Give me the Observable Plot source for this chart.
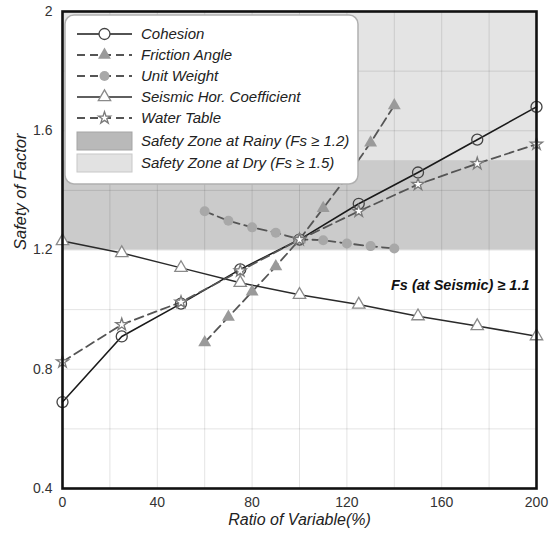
<!DOCTYPE html>
<html>
<head>
<meta charset="utf-8">
<script src="https://cdn.jsdelivr.net/npm/d3@7"></script>
<script src="https://cdn.jsdelivr.net/npm/@observablehq/plot@0.6"></script>
<style>
  html, body { margin: 0; padding: 0; background: #fff; }
  #chart svg { display: block; }
</style>
</head>
<body>
<div id="chart"></div>
<script>
// ---- data ----
const xMain = [0, 25, 50, 75, 100, 125, 150, 175, 200];
const cohesion = [0.69, 0.91, 1.02, 1.135, 1.235, 1.355, 1.46, 1.57, 1.68];
const waterTable = [0.825, 0.95, 1.025, 1.13, 1.235, 1.33, 1.42, 1.49, 1.555];
const seismic = [1.23, 1.19, 1.14, 1.09, 1.05, 1.017, 0.978, 0.945, 0.911];
const xMid = [60, 70, 80, 90, 100, 110, 120, 130, 140];
const friction = [0.89, 0.975, 1.06, 1.145, 1.235, 1.34, 1.445, 1.56, 1.685];
const unitWeight = [1.33, 1.298, 1.276, 1.258, 1.236, 1.233, 1.222, 1.213, 1.205];

const bandNames = ["Safety Zone at Rainy (Fs \u2265 1.2)", "Safety Zone at Dry (Fs \u2265 1.5)"];
const bandLow = [1.2, 1.5];
const bandHigh = [1.5, 2.0];

const xTicks = [0, 40, 80, 120, 160, 200];
const yTicks = [0.4, 0.8, 1.2, 1.6, 2];
const xGrid = [20, 40, 60, 80, 100, 120, 140, 160, 180];
const yGrid = [0.6, 0.8, 1.0, 1.2, 1.4, 1.6, 1.8];
const xDomain = [0, 200];
const yDomain = [0.4, 2];

const xTitle = "Ratio of Variable(%)";
const yTitle = "Safety of Factor";
const annotation = ["Fs (at Seismic) \u2265 1.1"];
const annotationX = 200;
const annotationY = 1.08;

// ---- series styling ----
const series = [
  {name: "Cohesion", xs: xMain, ys: cohesion, stroke: "#1a1a1a", dash: null, width: 1.6,
   symbol: "circle", r: 5.5, fill: "none", mstroke: "#444"},
  {name: "Friction Angle", xs: xMid, ys: friction, stroke: "#555", dash: "9,5", width: 1.8,
   symbol: "triangle", r: 4.8, fill: "#9a9a9a", mstroke: "none"},
  {name: "Unit Weight", xs: xMid, ys: unitWeight, stroke: "#555", dash: "9,5", width: 1.8,
   symbol: "circle", r: 5, fill: "#a8a8a8", mstroke: "none"},
  {name: "Seismic Hor. Coefficient", xs: xMain, ys: seismic, stroke: "#2a2a2a", dash: null, width: 1.5,
   symbol: "triangle", r: 4.6, fill: "#fff", mstroke: "#8a8a8a"},
  {name: "Water Table", xs: xMain, ys: waterTable, stroke: "#555", dash: "9,5", width: 1.8,
   symbol: "star", r: 3.8, fill: "#fff", mstroke: "#7a7a7a"}
];
const bandFill = ["#cbcbcb", "#e4e4e4"];
const bandSwatch = ["#b9b9b9", "#e2e2e2"];
const bandSwatchStroke = ["#a5a5a5", "#c8c8c8"];

const bands = bandNames.map((n, i) => ({name: n, y1: bandLow[i], y2: bandHigh[i], fill: bandFill[i]}));
const tables = series.map(s => s.xs.map((x, i) => ({x, y: s.ys[i]})));

const font = "'Liberation Sans', Arial, Helvetica, sans-serif";

const marks = [
  Plot.rect(bands, {x1: () => xDomain[0], x2: () => xDomain[1], y1: "y1", y2: "y2", fill: "fill"}),
  Plot.gridX(xGrid, {stroke: "#000", strokeOpacity: 0.11, strokeWidth: 1}),
  Plot.gridY(yGrid, {stroke: "#000", strokeOpacity: 0.11, strokeWidth: 1}),
];
series.forEach((s, i) => {
  marks.push(Plot.line(tables[i], {x: "x", y: "y", stroke: s.stroke, strokeWidth: s.width,
    strokeDasharray: s.dash || undefined}));
});
series.forEach((s, i) => {
  marks.push(Plot.dot(tables[i], {x: "x", y: "y", symbol: () => s.symbol, r: s.r,
    fill: s.fill, stroke: s.mstroke, strokeWidth: 1.3}));
});
marks.push(
  Plot.text(annotation, {x: () => annotationX, y: () => annotationY, text: d => d, textAnchor: "end",
    dx: -7, fontWeight: "bold", fontStyle: "italic", fontSize: 14.5, fill: "#111"}),
  Plot.axisX(xTicks, {tickSize: 0, tickPadding: 9, fontSize: 14, fill: "#333", label: null}),
  Plot.axisY(yTicks, {tickSize: 0, tickPadding: 10, fontSize: 14, fill: "#333", label: null,
    tickFormat: d => String(d)}),
  Plot.text([xTitle], {frameAnchor: "bottom", dy: 36, text: d => d, fontStyle: "italic", fontSize: 16, fill: "#222"}),
  Plot.text([yTitle], {frameAnchor: "left", dx: -42, rotate: -90, text: d => d, fontStyle: "italic", fontSize: 16.5, fill: "#222"}),
  Plot.frame({stroke: "#111", strokeWidth: 2.6})
);

const chart = Plot.plot({
  width: 550, height: 537,
  marginTop: 11, marginBottom: 49, marginLeft: 62, marginRight: 14,
  x: {domain: xDomain, label: null},
  y: {domain: yDomain, label: null},
  style: {fontFamily: font, fontSize: "14px", background: "#fff", color: "#333"},
  marks
});
document.getElementById("chart").appendChild(chart);

// ---- legend (overlay inside the svg) ----
const svg = d3.select(chart);
const lg = svg.insert("g", "g[aria-label='frame']").attr("class", "legend")
  .attr("text-anchor", "start");
const box = {x: 65, y: 15, w: 293, h: 169};
lg.append("rect").attr("x", box.x).attr("y", box.y).attr("width", box.w).attr("height", box.h)
  .attr("rx", 9).attr("fill", "#fff").attr("stroke", "#b0b0b0").attr("stroke-width", 1.5);
const rowY = [34, 55, 76, 97, 118, 141, 163];
const sx0 = 77, sx1 = 132, tx = 141;
series.forEach((s, i) => {
  const y = rowY[i];
  lg.append("line").attr("x1", sx0).attr("x2", sx1).attr("y1", y).attr("y2", y)
    .attr("stroke", s.stroke).attr("stroke-width", s.width)
    .attr("stroke-dasharray", s.dash ? "8,5" : null);
  const symType = {circle: d3.symbolCircle, triangle: d3.symbolTriangle, star: d3.symbolStar}[s.symbol];
  lg.append("path").attr("d", d3.symbol(symType, s.r * s.r * Math.PI)())
    .attr("transform", `translate(${(sx0 + sx1) / 2},${y})`)
    .attr("fill", s.fill === "none" ? "#fff" : s.fill).attr("stroke", s.mstroke).attr("stroke-width", 1.3);
  lg.append("text").attr("x", tx).attr("y", y).attr("dy", "0.35em").text(s.name)
    .attr("text-anchor", "start")
    .attr("font-family", font).attr("font-style", "italic").attr("font-size", 15).attr("fill", "#222");
});
bandNames.forEach((n, i) => {
  const y = rowY[5 + i];
  lg.append("rect").attr("x", sx0).attr("y", y - 9).attr("width", sx1 - sx0).attr("height", 18)
    .attr("fill", bandSwatch[i]).attr("stroke", bandSwatchStroke[i]).attr("stroke-width", 1);
  lg.append("text").attr("x", tx).attr("y", y).attr("dy", "0.35em").text(n)
    .attr("text-anchor", "start")
    .attr("font-family", font).attr("font-style", "italic").attr("font-size", 15).attr("fill", "#222");
});
</script>
</body>
</html>
